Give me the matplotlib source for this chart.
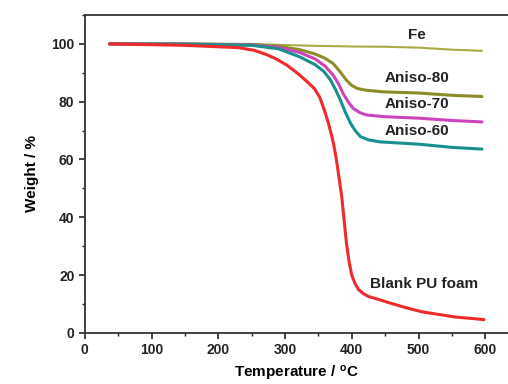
import numpy as np
import matplotlib
matplotlib.use("Agg")
import matplotlib.pyplot as plt
from matplotlib.ticker import MultipleLocator

plt.rcParams['font.family'] = ['Liberation Sans', 'DejaVu Sans']

# curve data (temperature in C, weight in %)
t_fe = [37, 150, 250, 300, 350, 400, 450, 500, 550, 595]
w_fe = [100, 100, 99.9, 99.6, 99.3, 99.1, 99.0, 98.7, 98.0, 97.6]

t_a80 = [37, 150, 250, 290, 322, 345, 360, 372, 382, 392, 400, 408, 420, 447, 500, 550, 595]
w_a80 = [100, 100, 99.8, 99.2, 98.0, 96.5, 95.0, 93.2, 90.5, 87.4, 85.6, 84.6, 84.0, 83.4, 83.0, 82.2, 81.8]

t_a70 = [37, 150, 250, 290, 322, 345, 360, 372, 380, 387, 395, 402, 412, 422, 450, 500, 550, 595]
w_a70 = [100, 99.9, 99.6, 98.8, 97.0, 94.8, 92.3, 89.2, 86.2, 82.8, 79.8, 77.7, 76.2, 75.4, 74.8, 74.3, 73.5, 73.0]

t_a60 = [37, 150, 250, 290, 322, 345, 358, 368, 376, 383, 390, 398, 405, 413, 425, 442, 500, 550, 595]
w_a60 = [100, 99.9, 99.5, 98.3, 95.5, 92.8, 90.5, 87.5, 84.0, 80.5, 76.5, 72.6, 70.0, 67.9, 66.8, 66.1, 65.3, 64.2, 63.6]

t_blank = [37, 150, 200, 230, 253, 270, 285, 303, 320, 335, 344, 352, 359, 365, 369, 373, 377, 381, 385, 388,
           392, 396, 400, 405, 410, 418, 425, 440, 455, 480, 505, 530, 555, 580, 598]
w_blank = [100, 99.5, 99.0, 98.7, 97.8, 96.5, 95.0, 92.6, 89.6, 86.5, 84.5, 81.5, 77.0, 72.5, 69.0, 65.0, 59.8, 53.5,
           47.0, 40.0, 31.0, 24.5, 19.9, 17.0, 15.0, 13.5, 12.6, 11.6, 10.5, 8.8, 7.3, 6.4, 5.5, 5.0, 4.6]

labels = ['Fe', 'Aniso-80', 'Aniso-70', 'Aniso-60', 'Blank PU foam']
label_x = [498, 497, 497, 497, 508]
label_y = [103, 88.3, 79.2, 69.9, 16.8]
colors = ['#abab45', '#8d8d28', '#cc44bb', '#1a8f8f', '#ee2a2a']

fig = plt.figure(figsize=(5.08, 3.84), dpi=100)
ax = fig.add_axes([0.167, 0.133, 0.833, 0.828])

series = [(t_fe, w_fe), (t_a80, w_a80), (t_a70, w_a70), (t_a60, w_a60), (t_blank, w_blank)]
for (t, w), c in zip(series, colors):
    lw = 1.5 if c == colors[0] else 2.2
    ax.plot(t, w, color=c, lw=lw, solid_capstyle='round')

for lab, x, y in zip(labels, label_x, label_y):
    ax.text(x, y, lab, ha='center', va='center', fontsize=11, fontweight='bold', color='#222222')

ax.set_xlim(0, 634)
ax.set_ylim(0, 110)
ax.xaxis.set_major_locator(MultipleLocator(100))
ax.xaxis.set_minor_locator(MultipleLocator(50))
ax.yaxis.set_major_locator(MultipleLocator(20))
ax.yaxis.set_minor_locator(MultipleLocator(10))
ax.set_yticks([0, 20, 40, 60, 80, 100])

ax.spines['right'].set_visible(False)
for s in ['left', 'bottom', 'top']:
    ax.spines[s].set_linewidth(1.3)
    ax.spines[s].set_color('#333333')

ax.tick_params(which='major', direction='out', length=4, width=1.2, labelsize=10, colors='#222222')
ax.tick_params(which='minor', direction='out', length=2.5, width=1.0, colors='#222222')
for lb in ax.get_xticklabels() + ax.get_yticklabels():
    lb.set_fontweight('bold')

ax.set_xlabel('Temperature / $\\mathregular{^{o}}$C', fontsize=11, fontweight='bold', labelpad=5)
ax.set_ylabel('Weight / %', fontsize=11, fontweight='bold', labelpad=9)

fig.savefig('out.png', dpi=100)
